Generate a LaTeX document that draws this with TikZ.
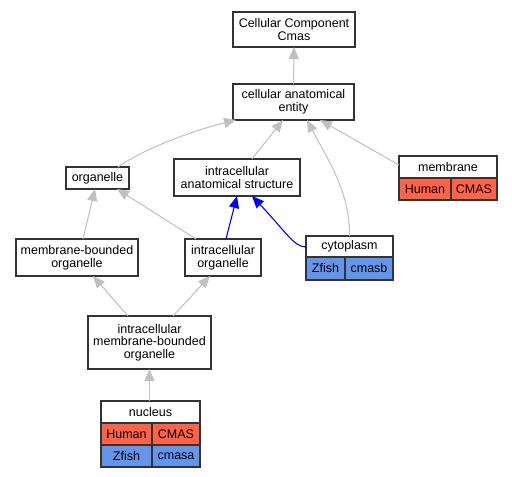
\documentclass[tikz,border=0pt]{standalone}
\usepackage{fontspec}
\setmainfont{Liberation Sans}
\usetikzlibrary{arrows.meta}
\definecolor{tomatored}{HTML}{FF6347}
\definecolor{cfblue}{HTML}{6495ED}
\definecolor{edgegray}{HTML}{C0C0C0}
\definecolor{boxline}{HTML}{333333}
\begin{document}
\begin{tikzpicture}[x=1pt,y=-1pt,
  every node/.style={font=\fontsize{12.5}{12.7}\selectfont, inner sep=0pt, outer sep=0pt},
  box/.style={draw=boxline, line width=1.4pt, fill=white, rectangle, align=center},
  tbl/.style={draw=boxline, line width=1.4pt, rectangle},
  cell/.style={draw=boxline, line width=1.2pt},
  isa/.style={draw=edgegray, line width=1pt, -{Triangle[length=12pt,width=10pt]}},
  partof/.style={draw=blue, line width=1.1pt, -{Triangle[length=12pt,width=10pt]}}]
\useasboundingbox[fill=white] (0,0) rectangle (512,477);

% plain nodes
\node[box, minimum width=122pt, minimum height=35pt] (ccc) at (294,29.5) {Cellular Component\\Cmas};
\node[box, minimum width=121pt, minimum height=36pt] (cae) at (293.5,102) {cellular anatomical\\entity};
\node[box, minimum width=63pt, minimum height=22pt] (org) at (97.5,178) {organelle};
\node[box, minimum width=126pt, minimum height=37pt] (ias) at (237,177.5) {intracellular\\anatomical structure};
\node[box, minimum width=122pt, minimum height=37pt] (mbo) at (77,257.5) {membrane-bounded\\organelle};
\node[box, minimum width=76pt, minimum height=37pt] (io) at (223,257.5) {intracellular\\organelle};
\node[box, minimum width=123pt, minimum height=53pt] (imbo) at (149.5,342.5) {intracellular\\membrane-bounded\\organelle};

% membrane table
\fill[tomatored] (399,178) rectangle (497,200);
\node[tbl, minimum width=98pt, minimum height=44pt] (mem) at (448,178) {};
\draw[cell] (399,178) -- (497,178) (451,178) -- (451,200);
\node (memt) at (448,167) {membrane};
\node (memh) at (425,189.5) {Human};
\node (memc) at (474,189.5) {CMAS};

% cytoplasm table
\fill[cfblue] (306,257) rectangle (393,280);
\node[tbl, minimum width=87pt, minimum height=44pt] (cyt) at (349.5,258) {};
\draw[cell] (306,257) -- (393,257) (345,257) -- (345,280);
\node (cytt) at (349.5,246.5) {cytoplasm};
\node (cytz) at (325.5,268.5) {Zfish};
\node (cytc) at (369,268.5) {cmasb};

% nucleus table
\fill[tomatored] (101,423) rectangle (200,445);
\fill[cfblue] (101,445) rectangle (200,467);
\node[tbl, minimum width=99pt, minimum height=66pt] (nuc) at (150.5,434) {};
\draw[cell] (101,423) -- (200,423) (101,445) -- (200,445) (152,423) -- (152,467);
\node (nuct) at (150.5,412) {nucleus};
\node (nuch) at (126.5,434) {Human};
\node (nucc) at (176,434) {CMAS};
\node (nucz) at (126.5,456) {Zfish};
\node (nucm) at (176,456) {cmasa};

% is_a edges
\draw[isa] (cae.north) -- (ccc.south);
\draw[isa] ([xshift=20.5pt]org.north) .. controls (145,148) and (195,130) .. ([xshift=-57.5pt]cae.south);
\draw[isa] ([xshift=15pt]ias.north) -- ([xshift=-10.5pt]cae.south);
\draw[isa] (cyt.north) .. controls (350,192) and (328,160) .. ([xshift=13.5pt]cae.south);
\draw[isa] ([yshift=13pt]mem.west) -- ([xshift=26.5pt]cae.south);
\draw[isa] ([xshift=6pt]mbo.north) -- ([xshift=-2.5pt]org.south);
\draw[isa] ([xshift=-27pt]io.north) -- ([xshift=19.5pt]org.south);
\draw[isa] ([xshift=-21.5pt]imbo.north) -- ([xshift=16pt]mbo.south);
\draw[isa] ([xshift=23.5pt]imbo.north) -- ([xshift=-13pt]io.south);
\draw[isa] ([xshift=-1pt]nuc.north) -- (imbo.south);

% part_of edges
\draw[partof] ([xshift=3pt]io.north) -- (ias.south);
\draw[partof] ([yshift=11pt]cyt.west) .. controls (294,247) and (286,232) .. ([xshift=15pt]ias.south);
\end{tikzpicture}
\end{document}
